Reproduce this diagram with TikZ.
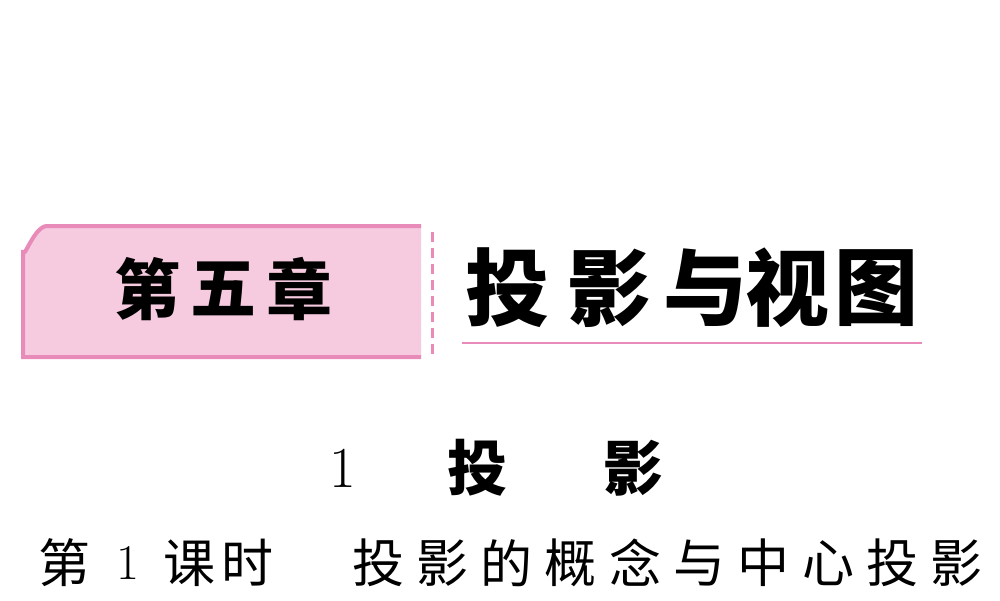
\documentclass[tikz,border=0pt]{standalone}
\usepackage{fontspec}
\newfontfamily\cjk{Noto Sans CJK SC}
\definecolor{pinkfill}{HTML}{F6CADF}
\definecolor{pinkline}{HTML}{E98BB8}
\begin{document}
\begin{tikzpicture}[x=1pt,y=-1pt,
  big/.style={font=\cjk\bfseries\fontsize{84}{84}\selectfont,inner sep=0,anchor=center},
  mid/.style={font=\cjk\bfseries\fontsize{66}{66}\selectfont,inner sep=0,anchor=center},
  sec/.style={font=\cjk\bfseries\fontsize{60}{60}\selectfont,inner sep=0,anchor=center},
  sub/.style={font=\cjk\fontsize{52}{52}\selectfont,inner sep=0,anchor=center},
  num/.style={font=\fontsize{58}{58}\selectfont,inner sep=0,anchor=center}]
\useasboundingbox (0,0) rectangle (1000,600);
\fill[pinkfill] (23,357) -- (23,250) to[out=-90,in=180] (47,226) -- (421,226) -- (421,357) -- cycle;
\draw[pinkline,line width=4pt] (421,357) -- (23,357) -- (23,250) to[out=-90,in=180] (47,226) -- (421,226);
\draw[pinkline,line width=3pt,dash pattern=on 10pt off 6pt] (432,232) -- (432,356);
\draw[pinkline,line width=2.5pt] (462,343) -- (922,343);
\foreach \c/\x [count=\i] in {第/147,五/223,章/299}
  \node[mid] (a\i) at (\x,289) {\c};
\foreach \c/\x [count=\i] in {投/507,影/609,与/705,视/787,图/876}
  \node[big] (b\i) at (\x,288) {\c};
\node[num] (n1) at (343,468) {1};
\node[sec] (s1) at (477,468) {投};
\node[sec] (s2) at (633,468) {影};
\node[sub] (c1) at (64,563) {第};
\node[num,font=\fontsize{50}{50}\selectfont] (c2) at (128,563) {1};
\foreach \c/\x [count=\i] in {课/189,时/247}
  \node[sub] (d\i) at (\x,563) {\c};
\foreach \c [count=\i] in {投,影,的,概,念,与,中,心,投,影}
  \node[sub] (e\i) at ({378+(\i-1)*64.3},563) {\c};
\end{tikzpicture}
\end{document}
